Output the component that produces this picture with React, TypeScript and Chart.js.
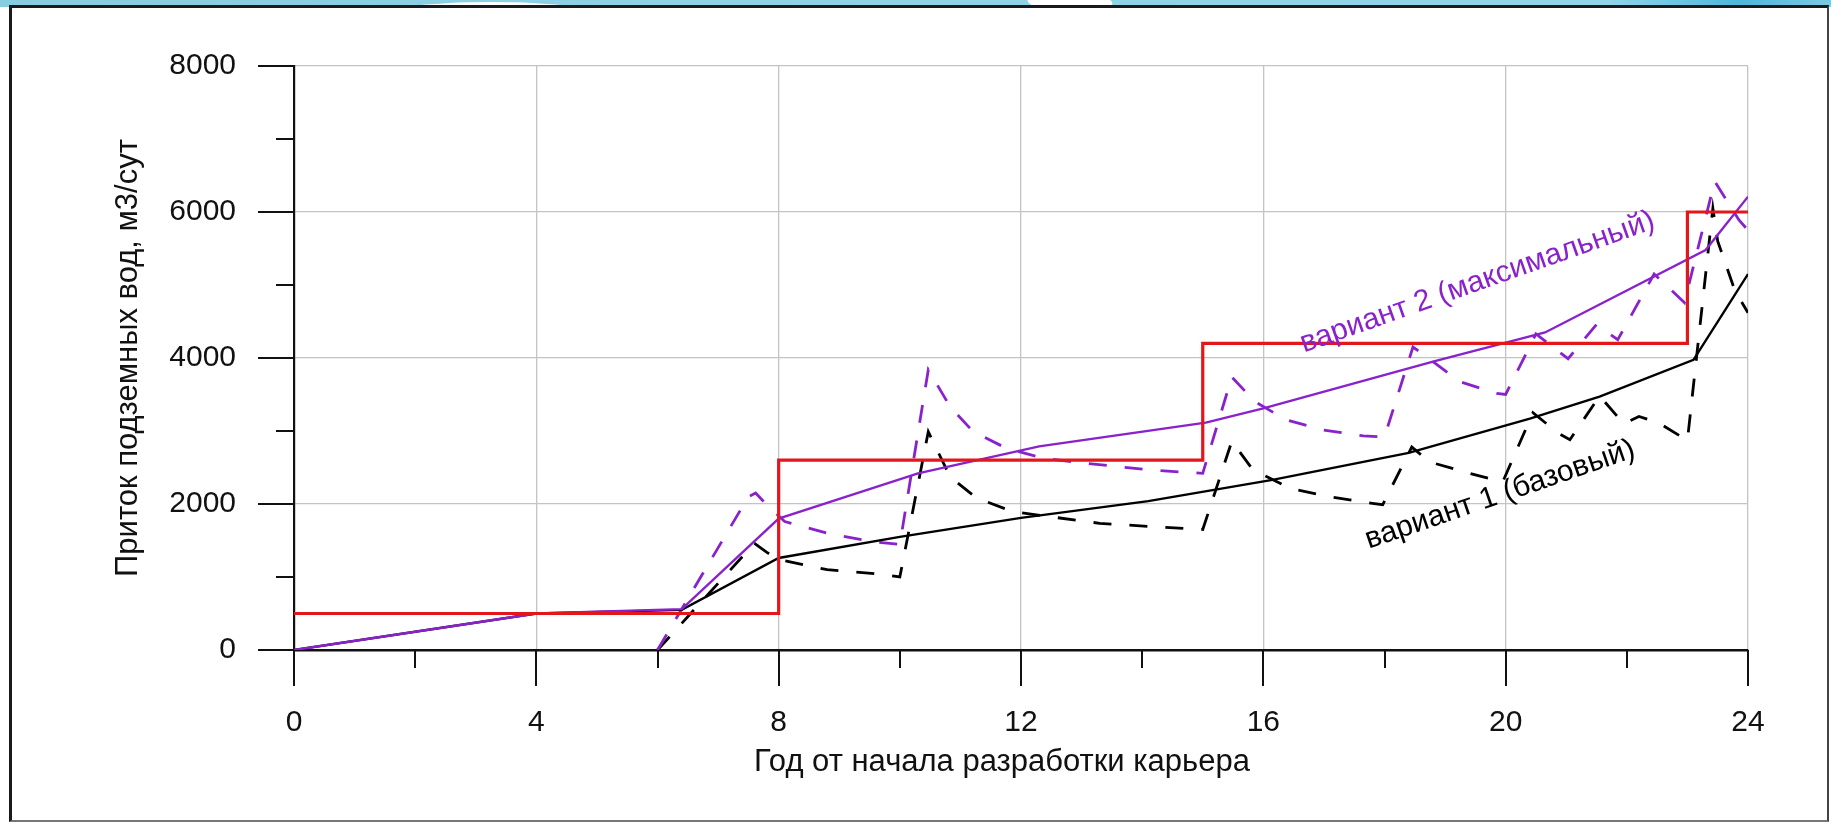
import React, { useEffect, useRef } from "react";
import { Chart, registerables } from "chart.js";

Chart.register(...registerables);

// ---------- data ----------
// Норматив (ступенчатая линия), м3/сут
const stepYears = [0, 8, 15, 23, 24];
const stepValues = [500, 2600, 4200, 6000, 6000];

// вариант 2 (максимальный) — сплошная
const v2Years = [0, 4, 6.4, 8, 10.3, 12.3, 15.05, 16.0, 18.8, 20.65, 23.3, 24];
const v2Values = [0, 500, 560, 1800, 2420, 2790, 3115, 3310, 3950, 4350, 5480, 6210];

// вариант 2 — пунктир
const v2DashYears = [6.0, 7.5, 7.62, 7.8, 8.1, 8.8, 9.56, 10.0, 10.47, 10.83, 11.21, 11.76, 12.37, 13.08, 14.13, 15.0, 15.48, 15.86, 16.38, 16.99, 17.65, 18.0, 18.47, 18.8, 19.24, 19.85, 20.0, 20.5, 21.03, 21.5, 21.85, 22.45, 22.95, 23.45, 23.85, 24.0];
const v2DashValues = [0, 2100, 2150, 1990, 1760, 1600, 1484, 1445, 3840, 3333, 2991, 2763, 2626, 2557, 2466, 2420, 3740, 3402, 3151, 3014, 2932, 2920, 4150, 3950, 3676, 3516, 3500, 4330, 3990, 4460, 4250, 5150, 4760, 6420, 5890, 5750];

// вариант 1 (базовый) — сплошная
const v1Years = [0, 4, 6.4, 8, 10, 12, 14.1, 16.15, 18.4, 20.4, 21.55, 23.1, 24];
const v1Values = [0, 500, 550, 1260, 1550, 1810, 2040, 2330, 2700, 3170, 3470, 3975, 5150];

// вариант 1 — пунктир
const v1DashYears = [6.0, 7.6, 7.8, 8.0, 8.8, 9.65, 10.0, 10.47, 10.83, 11.27, 11.87, 12.48, 13.3, 14.18, 15.0, 15.48, 15.83, 16.44, 17.1, 17.8, 17.97, 18.45, 18.75, 19.38, 19.95, 20.45, 20.87, 21.06, 21.55, 21.95, 22.2, 22.54, 23.0, 23.42, 23.5, 23.78, 24.0];
const v1DashValues = [0, 1460, 1340, 1240, 1100, 1040, 1000, 2990, 2370, 2080, 1895, 1826, 1735, 1690, 1650, 2860, 2466, 2215, 2100, 2010, 1990, 2780, 2575, 2425, 2300, 3250, 2970, 2880, 3480, 3100, 3200, 3105, 2870, 6050, 5600, 4930, 4620];

// axes
const xMin = 0;
const xMax = 24;
const xStep = 2;
const xLabelEvery = 4;
const yMin = 0;
const yMax = 8000;
const yStep = 1000;
const yLabelEvery = 2000;

const xTitle = "Год от начала разработки карьера";
const yTitle = "Приток подземных вод, м3/сут";
const label1Text = "вариант 1 (базовый)";
const label2Text = "вариант 2 (максимальный)";
// anchor of the curve captions in data coordinates
const label1Anchor = { x: 17.74, y: 1386 };
const label2Anchor = { x: 16.67, y: 4074 };

// ---------- styles ----------
const FONT = '"Liberation Sans", Arial, sans-serif';
const RED = "#e3161c";
const PURPLE = "#8a22cc";
const BLACK = "#000000";
const GRID = "#c4c4c4";
const TEXT = "#111111";

const pts = (xs: number[], ys: number[]) => xs.map((x, i) => ({ x, y: ys[i] }));

const decorPlugin = {
  id: "decor",
  afterDraw(chart: any) {
    const { ctx, chartArea, scales } = chart;
    const xs = scales.x;
    const ys = scales.y;
    ctx.save();
    ctx.strokeStyle = TEXT;
    ctx.lineWidth = 2;
    ctx.lineCap = "butt";
    ys.ticks.forEach((t: any) => {
      const py = Math.round(ys.getPixelForValue(t.value));
      const len = t.value % yLabelEvery === 0 ? 36 : 18;
      ctx.beginPath();
      ctx.moveTo(chartArea.left - len, py);
      ctx.lineTo(chartArea.left, py);
      ctx.stroke();
    });
    xs.ticks.forEach((t: any) => {
      const px = Math.round(xs.getPixelForValue(t.value));
      const len = t.value % xLabelEvery === 0 ? 36 : 18;
      ctx.beginPath();
      ctx.moveTo(px, chartArea.bottom);
      ctx.lineTo(px, chartArea.bottom + len);
      ctx.stroke();
    });

    // axis titles
    ctx.fillStyle = TEXT;
    ctx.font = `31px ${FONT}`;
    ctx.textAlign = "center";
    ctx.textBaseline = "alphabetic";
    ctx.fillText(xTitle, (chartArea.left + chartArea.right) / 2 - 19, chartArea.bottom + 121);
    ctx.save();
    ctx.translate(chartArea.left - 157, (chartArea.top + chartArea.bottom) / 2);
    ctx.rotate(-Math.PI / 2);
    ctx.fillText(yTitle, 0, 0);
    ctx.restore();

    // curve captions
    const caption = (text: string, anchor: { x: number; y: number }, deg: number, color: string) => {
      ctx.save();
      ctx.translate(xs.getPixelForValue(anchor.x), ys.getPixelForValue(anchor.y));
      ctx.rotate((-deg * Math.PI) / 180);
      ctx.fillStyle = color;
      ctx.textAlign = "left";
      ctx.textBaseline = "alphabetic";
      ctx.fillText(text, 0, 0);
      ctx.restore();
    };
    ctx.font = `30px ${FONT}`;
    caption(label2Text, label2Anchor, 19.5, PURPLE);
    caption(label1Text, label1Anchor, 19, BLACK);
    ctx.restore();
  },
};

export default function App() {
  const canvasRef = useRef<HTMLCanvasElement | null>(null);

  useEffect(() => {
    const canvas = canvasRef.current;
    if (!canvas) return;
    const chart = new Chart(canvas, {
      type: "line",
      data: {
        datasets: [
          {
            label: "норматив",
            data: pts(stepYears, stepValues),
            borderColor: RED,
            borderWidth: 3.2,
            stepped: "before",
            pointRadius: 0,
          },
          {
            label: label2Text,
            data: pts(v2Years, v2Values),
            borderColor: PURPLE,
            borderWidth: 2.4,
            pointRadius: 0,
            tension: 0,
          },
          {
            label: label1Text,
            data: pts(v1Years, v1Values),
            borderColor: BLACK,
            borderWidth: 2.4,
            pointRadius: 0,
            tension: 0,
          },
          {
            label: label2Text + " (пунктир)",
            data: pts(v2DashYears, v2DashValues),
            borderColor: PURPLE,
            borderWidth: 2.8,
            borderDash: [18, 18],
            pointRadius: 0,
            tension: 0,
          },
          {
            label: label1Text + " (пунктир)",
            data: pts(v1DashYears, v1DashValues),
            borderColor: BLACK,
            borderWidth: 2.8,
            borderDash: [18, 18],
            pointRadius: 0,
            tension: 0,
          },
        ],
      },
      options: {
        responsive: false,
        animation: false,
        devicePixelRatio: 1,
        layout: { padding: { left: 0, top: 66, right: 83, bottom: 0 } },
        plugins: { legend: { display: false }, tooltip: { enabled: false }, title: { display: false } },
        scales: {
          x: {
            type: "linear",
            min: xMin,
            max: xMax,
            afterFit: (s: any) => {
              s.height = 172;
              s.paddingLeft = 0;
              s.paddingRight = 0;
              s.paddingTop = 0;
              s.paddingBottom = 0;
            },
            ticks: {
              stepSize: xStep,
              autoSkip: false,
              maxRotation: 0,
              padding: 55,
              color: TEXT,
              font: { family: FONT, size: 30 },
              callback: (v: any) => (Number(v) % xLabelEvery === 0 ? String(v) : ""),
            },
            grid: {
              drawTicks: false,
              lineWidth: 1.3,
              color: (c: any) =>
                c.tick && c.tick.value % xLabelEvery === 0 && c.tick.value !== xMin ? GRID : "rgba(0,0,0,0)",
            },
            border: { display: true, color: TEXT, width: 2.6 },
          },
          y: {
            type: "linear",
            min: yMin,
            max: yMax,
            afterFit: (s: any) => {
              s.width = 294;
              s.paddingLeft = 0;
              s.paddingRight = 0;
              s.paddingTop = 0;
              s.paddingBottom = 0;
            },
            ticks: {
              stepSize: yStep,
              autoSkip: false,
              padding: 58,
              color: TEXT,
              font: { family: FONT, size: 30 },
              callback: (v: any) => (Number(v) % yLabelEvery === 0 ? String(v) : ""),
            },
            grid: {
              drawTicks: false,
              lineWidth: 1.3,
              color: (c: any) =>
                c.tick && c.tick.value % yLabelEvery === 0 && c.tick.value !== yMin ? GRID : "rgba(0,0,0,0)",
            },
            border: { display: true, color: TEXT, width: 2.2 },
          },
        },
      },
      plugins: [decorPlugin],
    } as any);
    return () => chart.destroy();
  }, []);

  return (
    <div
      style={{
        position: "fixed",
        left: 0,
        top: 0,
        width: 1831,
        height: 822,
        background: "#ffffff",
        overflow: "hidden",
      }}
    >
      <div
        style={{
          position: "absolute",
          left: 0,
          top: 0,
          width: 1831,
          height: 7,
          background: "linear-gradient(90deg, #86cde0 0%, #8fd3e6 50%, #8fd4e8 88%, #4db7dd 95%, #7cc9e2 100%)",
          overflow: "hidden",
        }}
      >
        <div style={{ position: "absolute", left: 374, top: 2, width: 234, height: 30, borderRadius: "50%", background: "#ffffff" }} />
        <div style={{ position: "absolute", left: 1028, top: -8, width: 84, height: 20, borderRadius: "50%", background: "#ffffff", transform: "skewX(30deg)" }} />
      </div>
      <div
        style={{
          position: "absolute",
          left: 9,
          top: 5,
          width: 1820,
          height: 817,
          boxSizing: "border-box",
          borderLeft: "3px solid #1a1a1a",
          borderTop: "3px solid #1a1a1a",
          borderRight: "2px solid #444444",
          borderBottom: "2px solid #777777",
        }}
      />
      <canvas
        ref={canvasRef}
        width={1831}
        height={822}
        style={{ position: "absolute", left: 0, top: 0, width: 1831, height: 822 }}
      />
    </div>
  );
}
